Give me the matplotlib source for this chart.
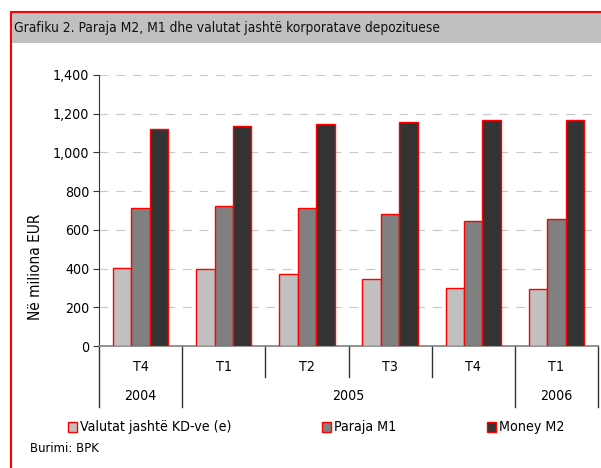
"""Grafiku 2: Paraja M2, M1 dhe valutat jashte korporatave depozituese."""

import matplotlib

matplotlib.use("Agg")
import matplotlib.pyplot as plt
import numpy as np
from matplotlib.lines import Line2D
from matplotlib.patches import Rectangle
from matplotlib.transforms import blended_transform_factory

# data (milion EUR)
quarters = ["T4", "T1", "T2", "T3", "T4", "T1"]
years = ["2004", "2005", "2006"]
year_spans = [(0, 1), (1, 5), (5, 6)]  # group index ranges per year
valutat = [405, 399, 374, 345, 298, 293]
paraja_m1 = [711, 722, 711, 680, 644, 655]
money_m2 = [1123, 1135, 1146, 1156, 1166, 1165]

series_labels = ["Valutat jashtë KD-ve (e)", "Paraja M1", "Money M2"]
colors = ["#C0C0C0", "#808080", "#333333"]
edge = "#FF0000"

W, H = 601, 468
plt.rcParams["font.family"] = ["DejaVu Sans"]
plt.rcParams["font.stretch"] = "condensed"
FS = 10.2

fig = plt.figure(figsize=(W / 100, H / 100), dpi=100)


def fx(px):
    return px / W


def fy(py):
    return 1 - py / H


# frame + title band
fig.add_artist(Rectangle((fx(11), fy(470)), fx(600), (470 - 12) / H, transform=fig.transFigure,
                         facecolor="none", edgecolor=edge, linewidth=1.5))
fig.add_artist(Rectangle((fx(12), fy(43)), fx(590), 30 / H, transform=fig.transFigure,
                         facecolor="#C0C0C0", edgecolor="none"))
fig.text(fx(14), fy(28), "Grafiku 2. Paraja M2, M1 dhe valutat jashtë korporatave depozituese",
         fontsize=9.95, va="center", ha="left", color="#111111")

ax = fig.add_axes([fx(99), fy(346), (598 - 99) / W, (346 - 75) / H])

x = np.arange(len(quarters)) + 0.5
bw = 0.222
for i, (vals, c) in enumerate(zip([valutat, paraja_m1, money_m2], colors)):
    ax.bar(x + (i - 1) * bw, vals, width=bw, color=c, edgecolor=edge, linewidth=1.0, zorder=3)

ax.set_xlim(0, len(quarters))
ax.set_ylim(0, 1400)
ax.set_yticks(np.arange(0, 1401, 200))
ax.set_yticklabels([f"{v:,}" for v in range(0, 1401, 200)], fontsize=FS)
ax.yaxis.grid(True, color="#C8C8C8", linestyle=(0, (8, 7)), linewidth=0.8, zorder=0)
ax.set_xticks([])
for s in ["top", "right"]:
    ax.spines[s].set_visible(False)
ax.spines["left"].set_color("#333333")
ax.spines["bottom"].set_color("#808080")
ax.spines["bottom"].set_linewidth(1.2)
ax.tick_params(axis="y", length=4, color="#333333", pad=3)

fig.text(fx(35), fy(267), "Në miliona EUR", rotation=90, fontsize=11, ha="center", va="center")

# two-level category axis
tr = blended_transform_factory(ax.transData, fig.transFigure)
year_edges = {s for span in year_spans for s in span}
for g in range(len(quarters) + 1):
    bottom = 407 if g in year_edges else 377
    ax.add_line(Line2D([g, g], [fy(346), fy(bottom)], transform=tr, color="#333333",
                       linewidth=1.0, clip_on=False))
for g, q in enumerate(quarters):
    ax.text(g + 0.5, fy(367), q, transform=tr, ha="center", va="center", fontsize=FS)
for yr, (a, b) in zip(years, year_spans):
    ax.text((a + b) / 2, fy(396), yr, transform=tr, ha="center", va="center", fontsize=FS)

# legend
for lx, label, c in zip([68, 322, 487], series_labels, colors):
    fig.add_artist(Rectangle((fx(lx), fy(432)), 9 / W, 10 / H, transform=fig.transFigure,
                             facecolor=c, edgecolor=edge, linewidth=1.0))
    fig.text(fx(lx + 12), fy(427), label, fontsize=FS, ha="left", va="center")

fig.text(fx(30), fy(449), "Burimi: BPK", fontsize=9.4, ha="left", va="center")

fig.savefig("out.png", dpi=100)
